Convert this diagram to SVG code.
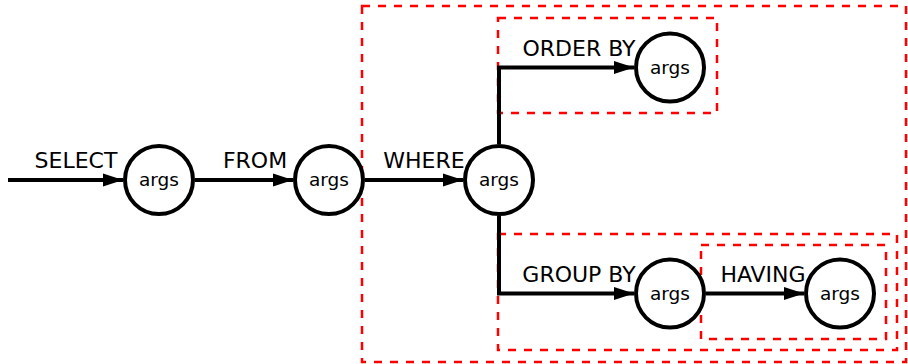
<svg xmlns="http://www.w3.org/2000/svg" width="908" height="364" viewBox="0 0 908 364">
<style>
.box{fill:none;stroke:#ff0000;stroke-width:2.5;stroke-dasharray:8 8}
.node circle{fill:#fff;stroke:#000;stroke-width:4}
.node text{font-family:"DejaVu Sans",sans-serif;font-size:18.5px;text-anchor:middle;fill:#000}
.edge{fill:none;stroke:#000;stroke-width:4;marker-end:url(#arr)}
.lbl{font-family:"DejaVu Sans",sans-serif;font-size:22px;text-anchor:middle;fill:#000}
</style>
<defs>
<marker id="arr" markerUnits="userSpaceOnUse" markerWidth="22" markerHeight="14" refX="20" refY="7" orient="auto">
<path d="M0,0.5 L20,7 L0,13.5 Z" fill="#000"/>
</marker>
</defs>
<g id="boxes">
<rect class="box" x="362" y="6" width="544" height="356"/>
<rect class="box" x="498" y="18" width="219" height="95"/>
<rect class="box" x="498" y="234" width="399" height="116"/>
<rect class="box" x="701" y="245" width="185" height="94"/>
</g>
<g id="connectors">
<path class="edge" d="M8,180 H123"/>
<path class="edge" d="M195,180 H293"/>
<path class="edge" d="M365,180 H463"/>
<path class="edge" d="M499,144 V67.5 H634"/>
<path class="edge" d="M499,216 V293.5 H634"/>
<path class="edge" d="M706,293.5 H804"/>
<text class="lbl" x="76" y="168">SELECT</text>
<text class="lbl" x="255" y="168">FROM</text>
<text class="lbl" x="424" y="168">WHERE</text>
<text class="lbl" x="579" y="55.5">ORDER BY</text>
<text class="lbl" x="579" y="281.5">GROUP BY</text>
<text class="lbl" x="763" y="281.5">HAVING</text>
</g>
<g id="n1" class="node"><circle cx="159" cy="180" r="34"/><text x="159" y="186">args</text></g>
<g id="n2" class="node"><circle cx="329" cy="180" r="34"/><text x="329" y="186">args</text></g>
<g id="n3" class="node"><circle cx="499" cy="180" r="34"/><text x="499" y="186">args</text></g>
<g id="n4" class="node"><circle cx="670" cy="67.5" r="34"/><text x="670" y="73.5">args</text></g>
<g id="n5" class="node"><circle cx="670" cy="293.5" r="34"/><text x="670" y="299.5">args</text></g>
<g id="n6" class="node"><circle cx="840" cy="293.5" r="34"/><text x="840" y="299.5">args</text></g>
</svg>
